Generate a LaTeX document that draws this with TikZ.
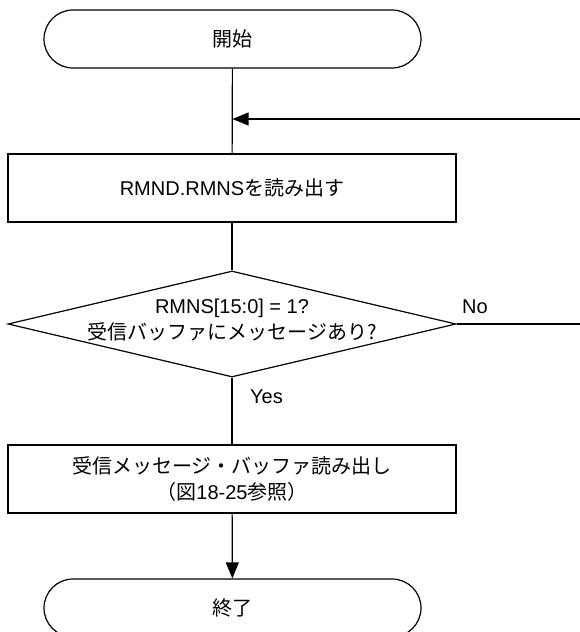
\documentclass[tikz,border=0pt]{standalone}
\usepackage{fontspec}
\setmainfont{Liberation Sans}
\newfontfamily\jpfont{Noto Sans CJK JP}
\usetikzlibrary{arrows.meta,shapes.geometric}
\tikzset{
	terminal/.style={draw, line width=1.2pt, rounded corners=29pt, minimum width=377pt, minimum height=58pt, inner sep=0pt},
	process/.style={draw, line width=1.2pt, minimum width=448pt, minimum height=68pt, inner sep=0pt, align=center},
	decision/.style={draw, line width=1.2pt, diamond, aspect=4.23, minimum width=448pt, minimum height=106pt, inner sep=0pt},
	flow/.style={line width=1.2pt},
	flowarrow/.style={line width=1.2pt, -{Triangle[length=16pt,width=13pt]}}
}
\begin{document}
\begin{tikzpicture}[x=1pt, y=-1pt, font=\fontsize{20}{26}\selectfont]
	\useasboundingbox (0,0) rectangle (580,632);
	% boxes
	\node[terminal] (start) at (232.5,39) {\jpfont 開始};
	\node[process] (rmns) at (232,188) {RMND.RMNS{\jpfont を読み出す}};
	\node[decision] (chk) at (232,324) {};
	\node[align=center] (chktxt) at (232,320) {RMNS[15:0] = 1?\\{\jpfont 受信バッファにメッセージあり?}};
	\node[process] (rdbuf) at (232,479) {{\jpfont 受信メッセージ・バッファ読み出し}\\{\jpfont （図}18-25{\jpfont 参照）}};
	\node[terminal] (stop) at (232.5,608) {\jpfont 終了};
	% labels
	\node[anchor=west, inner sep=0pt] (yes) at (250,397) {Yes};
	\node[anchor=west, inner sep=0pt] (no) at (462,307) {No};
	% free ends at the right edge
	\coordinate (loopin) at (580,119);
	\coordinate (noout) at (580,324);
	% connectors
	\draw[flow] (start) -- (rmns);
	\draw[flowarrow] (loopin) -- (start.south |- loopin);
	\draw[flow] (rmns) -- (chk.north);
	\draw[flow] (chk.east) -- (noout);
	\draw[flow] (chk.south) -- (rdbuf);
	\draw[flowarrow] (rdbuf) -- (stop);
\end{tikzpicture}
\end{document}
